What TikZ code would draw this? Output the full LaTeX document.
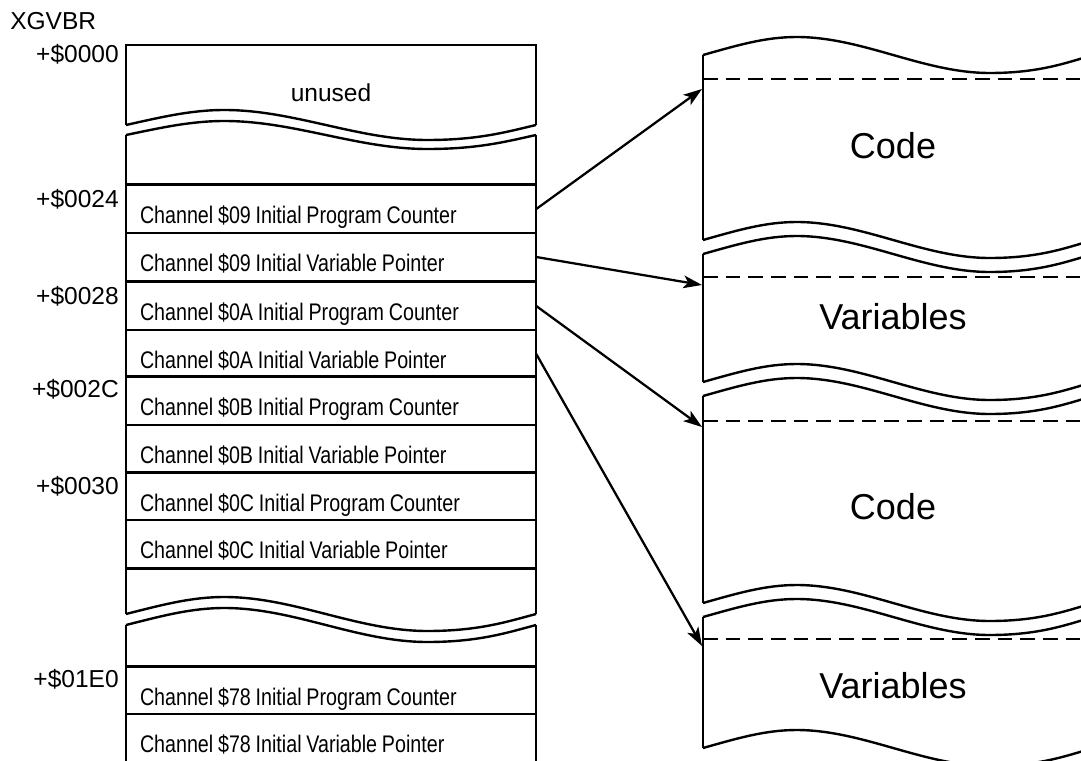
\documentclass[tikz,border=0pt]{standalone}
\usepackage{fontspec}
\setmainfont{Liberation Sans}
\newfontfamily\narrowfont{Liberation Sans}[FakeStretch=0.82]
\usetikzlibrary{arrows.meta}
% wave: x0, y0, width, amplitude (image px, y downwards)
\newcommand\wv[4]{(#1,#2) .. controls ({#1+0.09*#3},{#2-0.55*#4}) and ({#1+0.16*#3},{#2-#4}) .. ({#1+0.24*#3},{#2-#4}) .. controls ({#1+0.41*#3},{#2-#4}) and ({#1+0.565*#3},{#2+#4}) .. ({#1+0.735*#3},{#2+#4}) .. controls ({#1+0.86*#3},{#2+#4}) and ({#1+0.93*#3},{#2+0.45*#4}) .. ({#1+#3},{#2})}
\newcommand\tightspace{\spaceskip=3.6pt plus 1pt\relax}
\tikzset{
  edgeline/.style={line width=2pt},
  thinsep/.style={line width=1.3pt},
  thicksep/.style={line width=2.6pt},
  waveline/.style={line width=1.8pt},
  ptr/.style={line width=1.7pt,-{Stealth[length=14pt,width=9.5pt,inset=3.5pt]}},
  dashl/.style={line width=1.1pt,dash pattern=on 11pt off 6pt},
  addr/.style={font=\fontsize{18.4}{20}\selectfont,anchor=east,inner sep=0pt},
  rowbox/.style={minimum width=307.5pt,minimum height=36pt,inner xsep=10.5pt,inner ysep=0pt,
    text width=286.5pt,align=left,text height=21pt,text depth=0pt,
    font=\narrowfont\fontsize{18}{20}\selectfont,
    execute at begin node=\tightspace},
  bigtext/.style={font=\fontsize{27}{30}\selectfont,inner sep=0pt},
}
\begin{document}
\begin{tikzpicture}[x=0.75pt,y=-0.75pt]
\useasboundingbox (0,0) rectangle (1081,760);
\clip (0,0) rectangle (1081,760);

% ---------- left table ----------
\node[anchor=west,inner sep=0pt,font=\fontsize{18.4}{20}\selectfont] (xgvbr) at (10,21) {XGVBR};
\node[addr] (a0000) at (119,54) {+\$0000};
\node[addr] (a0024) at (119,199) {+\$0024};
\node[addr] (a0028) at (119,296) {+\$0028};
\node[addr] (a002C) at (119,389) {+\$002C};
\node[addr] (a0030) at (119,486) {+\$0030};
\node[addr] (a01E0) at (119,679) {+\$01E0};

\node[font=\fontsize{18.4}{20}\selectfont] (unused) at (331,93) {unused};

\node[rowbox] (pc09) at (331,209) {Channel \$09 Initial Program Counter};
\node[rowbox] (vp09) at (331,257) {Channel \$09 Initial Variable Pointer};
\node[rowbox] (pc0A) at (331,306) {Channel \$0A Initial Program Counter};
\node[rowbox] (vp0A) at (331,354) {Channel \$0A Initial Variable Pointer};
\node[rowbox] (pc0B) at (331,401) {Channel \$0B Initial Program Counter};
\node[rowbox] (vp0B) at (331,449) {Channel \$0B Initial Variable Pointer};
\node[rowbox] (pc0C) at (331,497) {Channel \$0C Initial Program Counter};
\node[rowbox] (vp0C) at (331,544) {Channel \$0C Initial Variable Pointer};
\node[rowbox] (pc78) at (331,691) {Channel \$78 Initial Program Counter};
\node[rowbox] (vp78) at (331,738) {Channel \$78 Initial Variable Pointer};

% outer edges
\draw[edgeline] (126,125) -- (126,45) -- (536,45) -- (536,125);
\draw[edgeline] (126,135) -- (126,614);
\draw[edgeline] (536,135) -- (536,614);
\draw[edgeline] (126,625) -- (126,775);
\draw[edgeline] (536,625) -- (536,775);
% breaks
\draw[waveline] \wv{126}{125}{410}{15};
\draw[waveline] \wv{126}{135}{410}{14};
\draw[waveline] \wv{126}{614}{410}{17};
\draw[waveline] \wv{126}{625}{410}{17};
% separators
\draw[thicksep] (pc09.north west) -- (pc09.north east);
\draw[thinsep]  (vp09.north west) -- (vp09.north east);
\draw[thicksep] (pc0A.north west) -- (pc0A.north east);
\draw[thinsep]  (vp0A.north west) -- (vp0A.north east);
\draw[thicksep] (pc0B.north west) -- (pc0B.north east);
\draw[thinsep]  (vp0B.north west) -- (vp0B.north east);
\draw[thicksep] (pc0C.north west) -- (pc0C.north east);
\draw[thinsep]  (vp0C.north west) -- (vp0C.north east);
\draw[thicksep] (vp0C.south west) -- (vp0C.south east);
\draw[thicksep] (pc78.north west) -- (pc78.north east);
\draw[thinsep]  (vp78.north west) -- (vp78.north east);

% ---------- right blocks ----------
% block A (Code)
\draw[waveline] \wv{703}{55}{390}{18};
\draw[waveline] \wv{703}{240}{390}{18};
\draw[edgeline] (703,55) -- (703,240);
\draw[dashl] (703,79) -- (1081,79);
\node[bigtext] (codeA) at (893,146) {Code};
% block B (Variables)
\draw[waveline] \wv{703}{254}{390}{18};
\draw[waveline] \wv{703}{382}{390}{18};
\draw[edgeline] (703,254) -- (703,382);
\draw[dashl] (703,277) -- (1081,277);
\node[bigtext] (varB) at (893,317) {Variables};
% block C (Code)
\draw[waveline] \wv{703}{396}{390}{18};
\draw[waveline] \wv{703}{603}{390}{18};
\draw[edgeline] (703,396) -- (703,603);
\draw[dashl] (703,421) -- (1081,421);
\node[bigtext] (codeC) at (893,507) {Code};
% block D (Variables)
\draw[waveline] \wv{703}{617}{390}{18};
\draw[waveline] \wv{703}{748}{390}{18};
\draw[edgeline] (703,617) -- (703,748);
\draw[dashl] (703,639) -- (1081,639);
\node[bigtext] (varD) at (893,686) {Variables};

% arrow targets
\coordinate (tA) at (702,89);
\coordinate (tB) at (702,285);
\coordinate (tC) at (702,427);
\coordinate (tD) at (702,646);

\draw[ptr] (pc09.east) -- (tA);
\draw[ptr] (vp09.east) -- (tB);
\draw[ptr] (pc0A.east) -- (tC);
\draw[ptr] (vp0A.east) -- (tD);
\end{tikzpicture}
\end{document}
